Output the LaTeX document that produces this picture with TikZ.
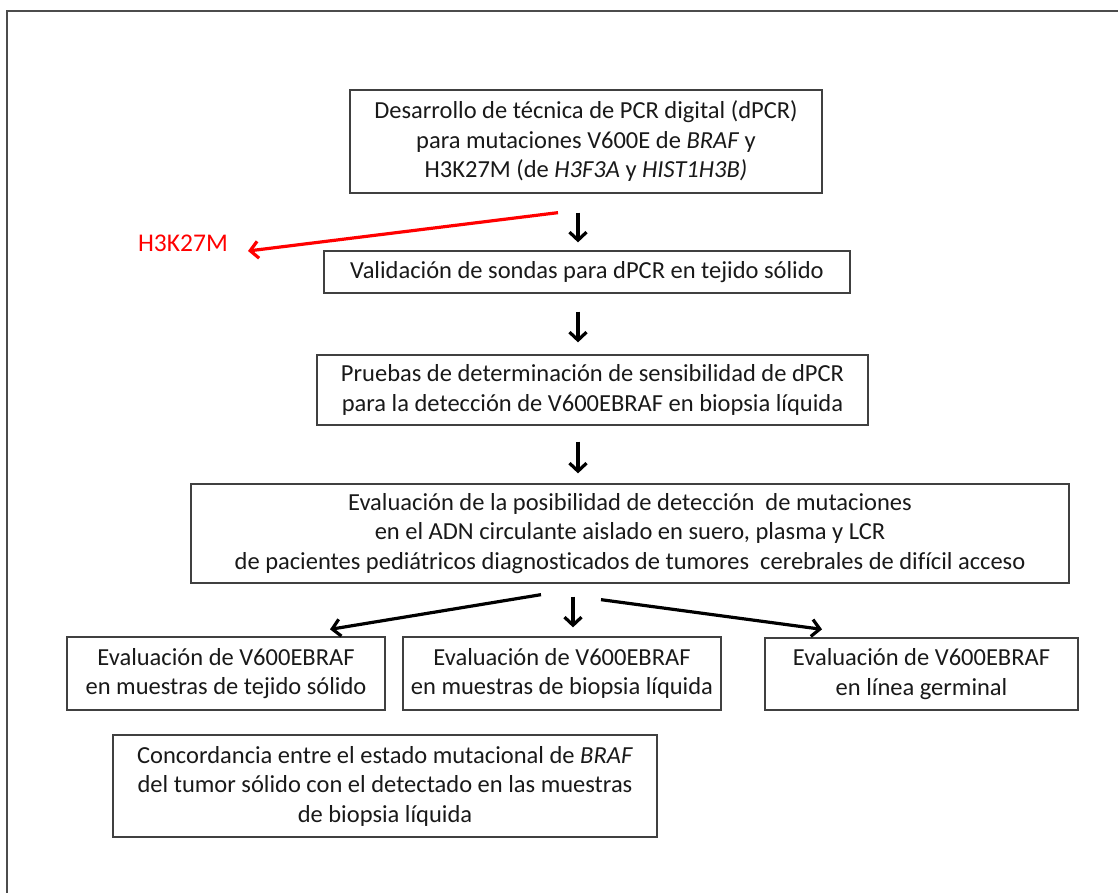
\documentclass[tikz,border=0pt]{standalone}
\usepackage{fontspec}
\setmainfont[Ligatures=CommonOff]{Carlito}
\usetikzlibrary{positioning,arrows.meta,calc}

\begin{document}
\begin{tikzpicture}[
    x=1pt, y=-1pt,
    font=\fontsize{24.5}{29.5}\selectfont,
    stage/.style={
        draw=black!75, line width=1.3pt, align=center,
        inner sep=0pt, text=black!90},
    link/.style={-{Straight Barb[length=8pt,width=17pt]}, line width=3.2pt, draw=black},
    redlink/.style={-{Straight Barb[length=8pt,width=17pt]}, line width=3.2pt, draw=red},
    tag/.style={text=red, inner sep=0pt},
    frame/.style={draw=black!70, line width=2pt},
]
\useasboundingbox (0,0) rectangle (1118,893);

% ---- outer frame ----
\draw[frame] (7,893) -- (7,11) -- (1118,11);

% ---- main column ----
\node[stage, minimum width=472, minimum height=103] (dev) at (586,141.5)
    {Desarrollo de técnica de PCR digital (dPCR)\\
     para mutaciones V600E de \textit{BRAF} y\\
     H3K27M (de \textit{H3F3A} y \textit{HIST1H3B)}};
\node[stage, minimum width=526, minimum height=42] (valid) at (587,272)
    {Validación de sondas para dPCR en tejido sólido};
\node[stage, minimum width=551, minimum height=70] (sens) at (592.5,390)
    {Pruebas de determinación de sensibilidad de dPCR\\
     para la detección de V600EBRAF en biopsia líquida};
\node[stage, minimum width=878, minimum height=99] (eval) at (630,533.5)
    {Evaluación de la posibilidad de detección \ de mutaciones\\
     en el ADN circulante aislado en suero, plasma y LCR\\
     de pacientes pediátricos diagnosticados de tumores \ cerebrales de difícil acceso};

% ---- three branches ----
\node[stage, minimum width=318, minimum height=73] (solid) at (226,673.5)
    {Evaluación de V600EBRAF\\ en muestras de tejido sólido};
\node[stage, minimum width=318, minimum height=73] (liquid) at (562,673.5)
    {Evaluación de V600EBRAF\\ en muestras de biopsia líquida};
\node[stage, minimum width=313, minimum height=72] (germ) at (921.5,674)
    {Evaluación de V600EBRAF\\ en línea germinal};
\node[stage, minimum width=544, minimum height=102] (concord) at (385,786)
    {Concordancia entre el estado mutacional de \textit{BRAF}\\
     del tumor sólido con el detectado en las muestras\\
     de biopsia líquida};

% ---- side label ----
\node[tag, anchor=east, font=\fontsize{25.5}{30}\selectfont] (h3) at (228,243) {H3K27M};

% ---- links ----
\draw[link] ([xshift=-8,yshift=-19]dev.south) -- ([xshift=-9,yshift=8]valid.north);
\draw[redlink] ([xshift=-28,yshift=-19]dev.south) -- ([xshift=20,yshift=-8]h3.east);
\draw[link] ([xshift=-9,yshift=-18]valid.south) -- ([xshift=-14.5,yshift=12]sens.north);
\draw[link] ([xshift=-14.5,yshift=-16]sens.south) -- ([xshift=-52,yshift=10]eval.north);
\draw[link] ([xshift=-89,yshift=-11]eval.south) -- ([xshift=104,yshift=7]solid.north);
\draw[link] ([xshift=-57,yshift=-13]eval.south) -- ([xshift=11,yshift=9]liquid.north);
\draw[link] ([xshift=-29,yshift=-16]eval.south) -- ([xshift=-99.5,yshift=8]germ.north);

\end{tikzpicture}
\end{document}
